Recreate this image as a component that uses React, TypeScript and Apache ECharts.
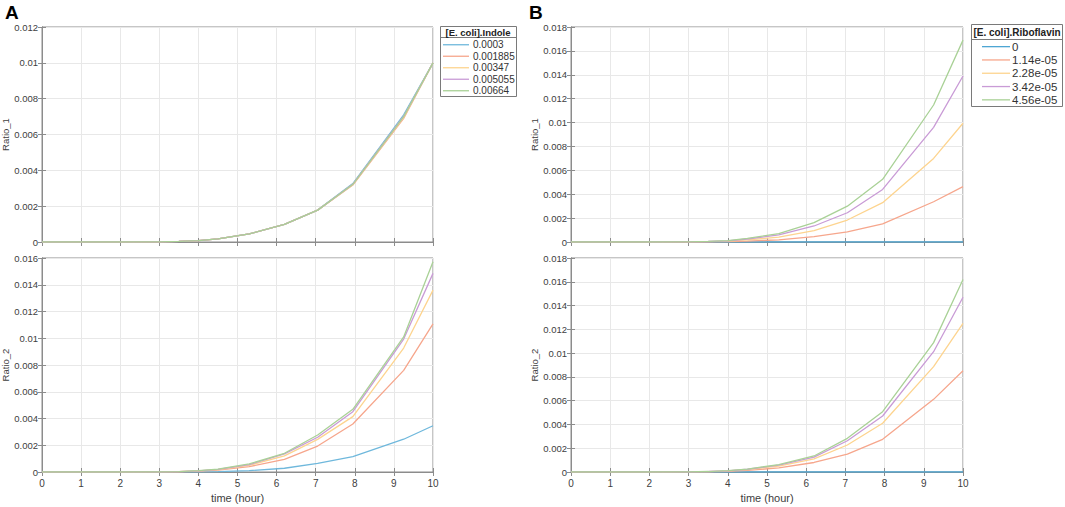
import React, { useEffect, useRef } from "react";
import * as echarts from "echarts";

const times = [0, 1, 2, 3, 3.5, 4, 4.5, 5.3, 6.2, 7.05, 7.95, 9.25, 10];
const xTicks = [0, 1, 2, 3, 4, 5, 6, 7, 8, 9, 10];

const indoleNames = ["0.0003", "0.001885", "0.00347", "0.005055", "0.00664"];
const riboNames = ["0", "1.14e-05", "2.28e-05", "3.42e-05", "4.56e-05"];
const colors = ["#6fb8dc", "#f6a68c", "#fdd48f", "#c99bd6", "#a9d196"];
const riboColors = ["#4ea6d3", "#f6a68c", "#fdd48f", "#c99bd6", "#a9d196"];

// Panel A, Ratio_1
const aR1_0 = [0, 0, 0, 0.00001, 0.00003, 0.00008, 0.00018, 0.00045, 0.00098, 0.00178, 0.00326, 0.0071, 0.0100];
const aR1_1 = [0, 0, 0, 0.00001, 0.00003, 0.00008, 0.00018, 0.00045, 0.00098, 0.00178, 0.00318, 0.0069, 0.0100];
const aR1_2 = [0, 0, 0, 0.00001, 0.00003, 0.00008, 0.00018, 0.00045, 0.00098, 0.00178, 0.00320, 0.00695, 0.0100];
const aR1_3 = [0, 0, 0, 0.00001, 0.00003, 0.00008, 0.00018, 0.00045, 0.00098, 0.00178, 0.00323, 0.00702, 0.0100];
const aR1_4 = [0, 0, 0, 0.00001, 0.00003, 0.00008, 0.00018, 0.00045, 0.00098, 0.00178, 0.00322, 0.0070, 0.0100];

// Panel A, Ratio_2
const aR2_0 = [0, 0, 0, 0, 0.000005, 0.00001, 0.00003, 0.0001, 0.00028, 0.00065, 0.00115, 0.00245, 0.00346];
const aR2_1 = [0, 0, 0, 0.000005, 0.00002, 0.00006, 0.00014, 0.0004, 0.00095, 0.00194, 0.00359, 0.0076, 0.01107];
const aR2_2 = [0, 0, 0, 0.00001, 0.00003, 0.00008, 0.00018, 0.0005, 0.0012, 0.00244, 0.00414, 0.00927, 0.0136];
const aR2_3 = [0, 0, 0, 0.00001, 0.00003, 0.00009, 0.0002, 0.00055, 0.00135, 0.0026, 0.00451, 0.00994, 0.01485];
const aR2_4 = [0, 0, 0, 0.00001, 0.00003, 0.0001, 0.00021, 0.0006, 0.0014, 0.00277, 0.00469, 0.0101, 0.01572];

// Panel B, Ratio_1
const bR1_0 = [0, 0, 0, 0, 0, 0, 0, 0, 0, 0, 0, 0, 0];
const bR1_1 = [0, 0, 0, 0, 0.00001, 0.00003, 0.00008, 0.00018, 0.00045, 0.00084, 0.00151, 0.00337, 0.00463];
const bR1_2 = [0, 0, 0, 0.00001, 0.00003, 0.00007, 0.00017, 0.0004, 0.00095, 0.00184, 0.00329, 0.007, 0.00994];
const bR1_3 = [0, 0, 0, 0.00001, 0.00004, 0.0001, 0.00025, 0.0006, 0.00134, 0.00245, 0.0044, 0.0096, 0.0139];
const bR1_4 = [0, 0, 0, 0.00001, 0.00005, 0.00012, 0.0003, 0.0007, 0.00162, 0.003, 0.00525, 0.01147, 0.0169];

// Panel B, Ratio_2
const bR2_0 = [0, 0, 0, 0, 0, 0, 0, 0, 0, 0, 0, 0, 0];
const bR2_1 = [0, 0, 0, 0.00001, 0.00002, 0.00006, 0.00013, 0.00035, 0.0008, 0.00151, 0.00275, 0.00611, 0.00852];
const bR2_2 = [0, 0, 0, 0.00001, 0.00003, 0.00009, 0.0002, 0.0005, 0.0011, 0.00227, 0.0041, 0.00886, 0.0125];
const bR2_3 = [0, 0, 0, 0.00001, 0.00004, 0.0001, 0.00023, 0.00058, 0.00125, 0.00263, 0.00471, 0.01012, 0.0147];
const bR2_4 = [0, 0, 0, 0.00001, 0.00004, 0.00011, 0.00025, 0.00062, 0.00135, 0.00283, 0.00507, 0.01088, 0.0162];

const FONT = "Liberation Sans, Arial, sans-serif";
const AXIS_COLOR = "#8c8c8c";
const LABEL_COLOR = "#404040";
const GRID_COLOR = "#e8e8e8";

export default function App() {
  const ref = useRef<HTMLDivElement>(null);

  useEffect(() => {
    if (!ref.current) return;
    const chart = echarts.init(ref.current, null, { renderer: "svg" });

    const grids = [
      { left: 42, top: 27, width: 391, height: 215 },
      { left: 42, top: 258, width: 391, height: 214 },
      { left: 571, top: 27, width: 392, height: 215 },
      { left: 571, top: 258, width: 392, height: 214 },
    ];
    const yMax = [0.012, 0.016, 0.018, 0.018];
    const yLabels = ["Ratio_1", "Ratio_2", "Ratio_1", "Ratio_2"];
    const showX = [false, true, false, true];

    const xAxis: any[] = [];
    const yAxis: any[] = [];
    grids.forEach((g, i) => {
      xAxis.push({
        type: "value",
        gridIndex: i,
        min: 0,
        max: 10,
        interval: 1,
        position: "bottom",
        name: showX[i] ? "time (hour)" : "",
        nameLocation: "middle",
        nameGap: 20,
        nameTextStyle: { fontFamily: FONT, fontSize: 11, color: LABEL_COLOR },
        axisLine: { show: true, lineStyle: { color: AXIS_COLOR } },
        axisTick: { show: true, inside: true, length: 4, lineStyle: { color: AXIS_COLOR } },
        axisLabel: { show: showX[i], fontFamily: FONT, fontSize: 10, color: LABEL_COLOR, margin: 6 },
        splitLine: { show: true, lineStyle: { color: GRID_COLOR } },
      });
      yAxis.push({
        type: "value",
        gridIndex: i,
        min: 0,
        max: yMax[i],
        interval: 0.002,
        position: "left",
        name: yLabels[i],
        nameLocation: "middle",
        nameGap: 27,
        nameTextStyle: { fontFamily: FONT, fontSize: 9.5, color: LABEL_COLOR },
        axisLine: { show: true, lineStyle: { color: AXIS_COLOR } },
        axisTick: { show: true, inside: true, length: 4, lineStyle: { color: AXIS_COLOR } },
        axisLabel: { fontFamily: FONT, fontSize: 9.5, color: LABEL_COLOR, margin: 4 },
        splitLine: { show: true, lineStyle: { color: GRID_COLOR } },
      });
    });
    grids.forEach((g, i) => {
      xAxis.push({
        type: "value",
        gridIndex: i,
        min: 0,
        max: 10,
        interval: 1,
        position: "top",
        axisLine: { show: true, lineStyle: { color: AXIS_COLOR } },
        axisTick: { show: true, inside: true, length: 4, lineStyle: { color: AXIS_COLOR } },
        axisLabel: { show: false },
        splitLine: { show: false },
      });
      yAxis.push({
        type: "value",
        gridIndex: i,
        min: 0,
        max: yMax[i],
        interval: 0.002,
        position: "right",
        axisLine: { show: true, lineStyle: { color: AXIS_COLOR } },
        axisTick: { show: true, inside: true, length: 4, lineStyle: { color: AXIS_COLOR } },
        axisLabel: { show: false },
        splitLine: { show: false },
      });
    });

    const panels = [
      { names: indoleNames, cols: colors, data: [aR1_0, aR1_1, aR1_2, aR1_3, aR1_4] },
      { names: indoleNames, cols: colors, data: [aR2_0, aR2_1, aR2_2, aR2_3, aR2_4] },
      { names: riboNames, cols: riboColors, data: [bR1_0, bR1_1, bR1_2, bR1_3, bR1_4] },
      { names: riboNames, cols: riboColors, data: [bR2_0, bR2_1, bR2_2, bR2_3, bR2_4] },
    ];

    const series: any[] = [];
    panels.forEach((p, i) => {
      p.data.forEach((vals, k) => {
        series.push({
          type: "line",
          name: p.names[k],
          xAxisIndex: i,
          yAxisIndex: i,
          showSymbol: false,
          symbol: "none",
          color: p.cols[k],
          lineStyle: { width: 1.3, color: p.cols[k] },
          data: times.map((t, j) => [t, vals[j]]),
        });
      });
    });

    const option: any = {
      animation: false,
      backgroundColor: "#ffffff",
      grid: grids.map((g) => ({
        ...g,
        outerBoundsMode: "none",
        containLabel: false,
        show: true,
        borderColor: AXIS_COLOR,
        borderWidth: 1,
        backgroundColor: "#fff",
      })),
      xAxis,
      yAxis,
      series,
      legend: [
        {
          data: indoleNames,
          orient: "vertical",
          left: 443,
          top: 39,
          icon: "rect",
          itemWidth: 26,
          itemHeight: 1.3,
          itemGap: 0,
          padding: 0,
          selectedMode: false,
          textStyle: { fontFamily: FONT, fontSize: 10, color: "#333", lineHeight: 11.5, padding: [0, 0, 0, -1] },
        },
        {
          data: riboNames,
          orient: "vertical",
          left: 982,
          top: 40,
          icon: "rect",
          itemWidth: 28,
          itemHeight: 1.3,
          itemGap: 0,
          padding: 0,
          selectedMode: false,
          textStyle: { fontFamily: FONT, fontSize: 11.5, color: "#333", lineHeight: 13.3, padding: [0, 0, 0, -3] },
        },
      ],
      graphic: [
        { type: "rect", shape: { x: 440.5, y: 26.5, width: 76, height: 70 }, style: { fill: "none", stroke: "#7a7a7a", lineWidth: 1 }, z: 10 },
        { type: "line", shape: { x1: 440.5, y1: 37.5, x2: 516.5, y2: 37.5 }, style: { stroke: "#7a7a7a", lineWidth: 1 }, z: 10 },
        { type: "text", x: 478, y: 32, style: { text: "[E. coli].Indole", fontFamily: FONT, fontSize: 9.5, fontWeight: "bold", fill: "#222", textAlign: "center", textVerticalAlign: "middle" }, z: 10 },
        { type: "rect", shape: { x: 971.5, y: 24.5, width: 91, height: 82 }, style: { fill: "none", stroke: "#7a7a7a", lineWidth: 1 }, z: 10 },
        { type: "line", shape: { x1: 971.5, y1: 39.5, x2: 1062.5, y2: 39.5 }, style: { stroke: "#7a7a7a", lineWidth: 1 }, z: 10 },
        { type: "text", x: 1017, y: 32, style: { text: "[E. coli].Riboflavin", fontFamily: FONT, fontSize: 10, fontWeight: "bold", fill: "#222", textAlign: "center", textVerticalAlign: "middle" }, z: 10 },
        { type: "text", x: 5, y: 3, style: { text: "A", fontFamily: FONT, fontSize: 19, fontWeight: "bold", fill: "#000" }, z: 10 },
        { type: "text", x: 529, y: 3, style: { text: "B", fontFamily: FONT, fontSize: 19, fontWeight: "bold", fill: "#000" }, z: 10 },
      ],
    };

    chart.setOption(option);
    return () => chart.dispose();
  }, []);

  return (
    <div
      ref={ref}
      style={{ position: "fixed", left: 0, top: 0, width: 1065, height: 507, background: "#fff" }}
    />
  );
}
